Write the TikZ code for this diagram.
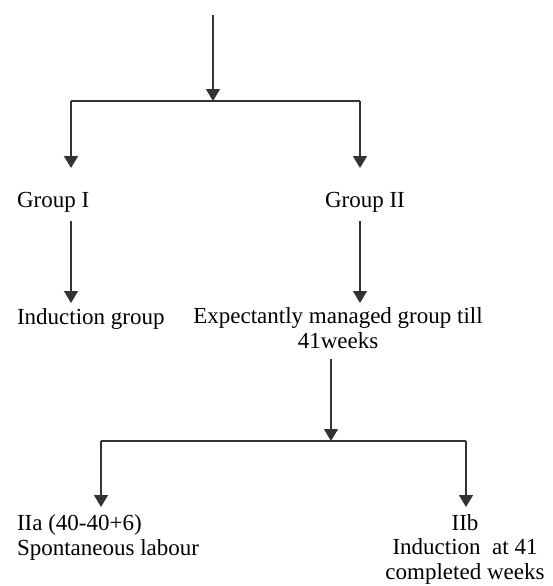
\documentclass[tikz,border=0pt]{standalone}
\usepackage{fontspec}
\setmainfont{Liberation Serif}
\usetikzlibrary{arrows.meta}
\tikzset{
  lbl/.style={inner sep=0pt, outer sep=0pt, font=\fontsize{23}{24.5}\selectfont},
  conn/.style={draw=black!80, line width=1.3pt},
  arr/.style={conn, -{Triangle[width=14pt,length=12pt]}}
}
\begin{document}
\begin{tikzpicture}[x=1pt,y=-1pt]
\useasboundingbox (0,0) rectangle (552,586);
% text nodes
\node[lbl, anchor=base west] (g1) at (17,207) {Group I};
\node[lbl, anchor=base west] (g2) at (325,207) {Group II};
\node[lbl, anchor=base west] (ind) at (17,324) {Induction group};
\node[lbl, anchor=base, align=center] (exp) at (338,348) {Expectantly managed group till\\41weeks};
\node[lbl, anchor=base west, align=left] (iia) at (17,555) {IIa (40-40+6)\\Spontaneous labour};
\node[lbl, anchor=base, align=center] (iib) at (465,579) {IIb\\Induction\ \ at 41\\completed weeks};
% connector coordinates
\coordinate (top) at (213,15);
\coordinate (s1) at (213,101);
\coordinate (l1) at (71,101);
\coordinate (r1) at (360,101);
\coordinate (t1) at (71,168);
\coordinate (t2) at (360,168);
\coordinate (g1b) at (71,221);
\coordinate (g1e) at (71,303);
\coordinate (g2b) at (360,221);
\coordinate (g2e) at (360,303);
\coordinate (eb) at (331,359);
\coordinate (s2) at (331,441);
\coordinate (l2) at (101,441);
\coordinate (r2) at (466,441);
\coordinate (t3) at (101,507);
\coordinate (t4) at (466,507);
% connectors
\draw[arr] (top) -- (s1);
\draw[conn] (l1) -- (r1);
\draw[arr] (l1) -- (t1);
\draw[arr] (r1) -- (t2);
\draw[arr] (g1b) -- (g1e);
\draw[arr] (g2b) -- (g2e);
\draw[arr] (eb) -- (s2);
\draw[conn] (l2) -- (r2);
\draw[arr] (l2) -- (t3);
\draw[arr] (r2) -- (t4);
\end{tikzpicture}
\end{document}
